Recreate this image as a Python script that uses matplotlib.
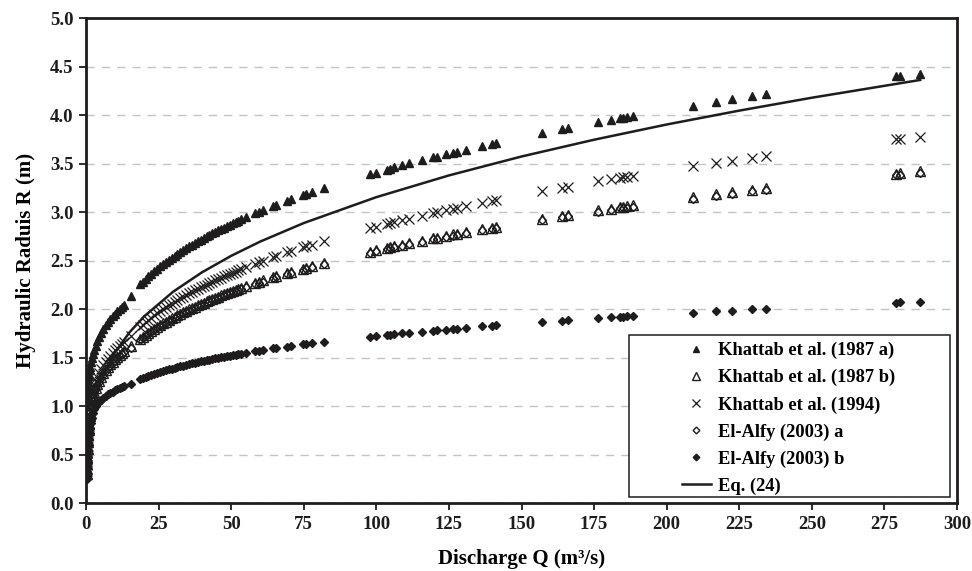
import matplotlib
matplotlib.use("Agg")
import matplotlib.pyplot as plt
from matplotlib.patches import Rectangle
from matplotlib.ticker import MultipleLocator, FormatStrFormatter

plt.rcParams['font.family'] = ['Liberation Serif', 'DejaVu Serif']
plt.rcParams['font.weight'] = 'bold'

INK = '#1e1c1d'

# discharge values shared by all data sets (m3/s)
discharge = [
    0.3, 0.35, 0.4, 0.5, 0.6, 0.7, 0.8, 0.9, 1.0, 1.2, 1.4, 1.7, 2.0, 2.4, 2.8,
    3.3, 3.9, 4.5, 5.2, 6.0, 6.8, 7.6, 8.4, 9.2, 10.0, 10.8, 11.6, 12.4, 13.2, 15.5,
    18.6, 19.5, 20.5, 21.5, 22.5, 23.5, 24.5, 25.5, 26.5, 27.5, 28.5, 29.5, 30.5,
    31.5, 32.5, 33.5, 34.5, 35.5, 36.5, 37.5, 38.5, 39.5, 40.5, 41.5, 42.5, 43.5,
    44.5, 45.5, 46.5, 47.5, 48.5, 49.5, 50.5, 51.5, 52.5, 53.5, 55.0, 58.2, 59.5,
    61.0, 64.5, 65.5, 69.3, 70.5, 74.7, 75.7, 77.7, 82.0,
    97.8, 99.9, 103.6, 104.7, 106.2, 108.7, 111.4, 115.6, 119.6, 120.8, 123.9,
    126.5, 127.7, 130.9, 136.5, 139.7, 141.2, 157.0, 164.0, 166.0, 176.5, 180.8,
    184.0, 185.0, 186.3, 188.3, 209.0, 217.0, 222.4, 229.3, 234.1, 279.0, 280.5, 287.3,
]

khattab_1987a = [
    1.00, 1.05, 1.10, 1.16, 1.21, 1.25, 1.28, 1.31, 1.33, 1.37, 1.41, 1.456, 1.496, 1.542, 1.582,
    1.626, 1.671, 1.712, 1.753, 1.795, 1.833, 1.867, 1.898, 1.927, 1.954, 1.979, 2.003, 2.025, 2.046, 2.14,
    2.26, 2.286, 2.314, 2.342, 2.368, 2.393, 2.418, 2.442, 2.465, 2.487, 2.509, 2.53, 2.551,
    2.571, 2.591, 2.61, 2.629, 2.648, 2.666, 2.684, 2.701, 2.718, 2.734, 2.751, 2.767, 2.783,
    2.798, 2.813, 2.829, 2.843, 2.858, 2.872, 2.886, 2.9, 2.914, 2.928, 2.947, 2.989, 3.005,
    3.023, 3.065, 3.076, 3.119, 3.132, 3.177, 3.188, 3.208, 3.251,
    3.39, 3.40, 3.44, 3.451, 3.463, 3.483, 3.504, 3.536, 3.565, 3.574, 3.596,
    3.615, 3.623, 3.645, 3.683, 3.704, 3.713, 3.82, 3.86, 3.87, 3.934, 3.952,
    3.97, 3.975, 3.979, 3.99, 4.10, 4.14, 4.165, 4.199, 4.216, 4.40, 4.41, 4.43,
]

khattab_1987b = [
    0.30, 0.35, 0.41, 0.48, 0.56, 0.63, 0.70, 0.76, 0.82, 0.90, 0.96, 1.02, 1.075, 1.115, 1.15,
    1.19, 1.23, 1.265, 1.302, 1.34, 1.374, 1.405, 1.433, 1.46, 1.484, 1.507, 1.529, 1.549, 1.569, 1.62,
    1.693, 1.714, 1.736, 1.758, 1.778, 1.798, 1.818, 1.836, 1.854, 1.872, 1.889, 1.906, 1.923,
    1.939, 1.954, 1.97, 1.985, 1.999, 2.014, 2.027, 2.041, 2.055, 2.068, 2.081, 2.094, 2.106,
    2.119, 2.131, 2.143, 2.155, 2.166, 2.178, 2.189, 2.2, 2.211, 2.222, 2.237, 2.27, 2.283,
    2.298, 2.331, 2.34, 2.374, 2.385, 2.42, 2.429, 2.445, 2.479,
    2.594, 2.608, 2.633, 2.64, 2.65, 2.666, 2.682, 2.708, 2.732, 2.739, 2.757,
    2.771, 2.778, 2.796, 2.826, 2.843, 2.851, 2.929, 2.963, 2.972, 3.019, 3.038,
    3.051, 3.056, 3.061, 3.07, 3.153, 3.184, 3.204, 3.229, 3.246, 3.396, 3.401, 3.422,
]

khattab_1994 = [
    0.33, 0.39, 0.45, 0.52, 0.59, 0.66, 0.73, 0.80, 0.87, 0.95, 1.02, 1.08, 1.141, 1.184, 1.221,
    1.263, 1.306, 1.343, 1.382, 1.423, 1.459, 1.492, 1.521, 1.55, 1.576, 1.60, 1.623, 1.645, 1.666, 1.72,
    1.82, 1.843, 1.868, 1.892, 1.915, 1.937, 1.959, 1.98, 2.001, 2.02, 2.04, 2.059, 2.077,
    2.095, 2.112, 2.13, 2.147, 2.163, 2.179, 2.195, 2.21, 2.225, 2.24, 2.255, 2.269, 2.284,
    2.297, 2.311, 2.325, 2.338, 2.351, 2.364, 2.376, 2.389, 2.401, 2.413, 2.431, 2.468, 2.483,
    2.499, 2.537, 2.547, 2.586, 2.598, 2.638, 2.648, 2.666, 2.705,
    2.835, 2.851, 2.879, 2.887, 2.898, 2.916, 2.935, 2.964, 2.991, 2.999, 3.02,
    3.037, 3.044, 3.064, 3.099, 3.118, 3.127, 3.217, 3.254, 3.265, 3.319, 3.341,
    3.357, 3.361, 3.368, 3.377, 3.472, 3.507, 3.53, 3.559, 3.578, 3.751, 3.756, 3.78,
]

elalfy_a = [
    0.27, 0.32, 0.38, 0.45, 0.52, 0.60, 0.67, 0.73, 0.79, 0.87, 0.94, 1.00, 1.05, 1.10, 1.135,
    1.175, 1.215, 1.25, 1.287, 1.325, 1.36, 1.39, 1.418, 1.445, 1.47, 1.493, 1.515, 1.535, 1.555, 1.605,
    1.68, 1.70, 1.722, 1.745, 1.765, 1.786, 1.805, 1.824, 1.842, 1.86, 1.877, 1.894, 1.911,
    1.927, 1.942, 1.958, 1.973, 1.987, 2.002, 2.015, 2.029, 2.043, 2.056, 2.069, 2.082, 2.094,
    2.107, 2.119, 2.131, 2.143, 2.154, 2.166, 2.177, 2.188, 2.199, 2.21, 2.225, 2.258, 2.271,
    2.286, 2.319, 2.328, 2.362, 2.373, 2.408, 2.417, 2.433, 2.467,
    2.582, 2.596, 2.621, 2.628, 2.638, 2.654, 2.67, 2.696, 2.72, 2.727, 2.745,
    2.759, 2.766, 2.784, 2.814, 2.831, 2.839, 2.917, 2.951, 2.96, 3.007, 3.026,
    3.039, 3.044, 3.049, 3.058, 3.141, 3.172, 3.192, 3.217, 3.234, 3.384, 3.389, 3.41,
]

elalfy_b = [
    0.25, 0.28, 0.31, 0.36, 0.42, 0.48, 0.54, 0.60, 0.66, 0.72, 0.78, 0.83, 0.88, 0.93, 0.97,
    1.008, 1.03, 1.049, 1.069, 1.089, 1.106, 1.122, 1.137, 1.15, 1.163, 1.174, 1.185, 1.195, 1.205, 1.23,
    1.279, 1.29, 1.302, 1.313, 1.324, 1.334, 1.344, 1.353, 1.362, 1.372, 1.38, 1.389, 1.397,
    1.405, 1.413, 1.42, 1.428, 1.435, 1.442, 1.449, 1.456, 1.463, 1.469, 1.476, 1.482, 1.488,
    1.494, 1.5, 1.506, 1.511, 1.517, 1.522, 1.528, 1.533, 1.538, 1.544, 1.551, 1.567, 1.573,
    1.58, 1.596, 1.6, 1.616, 1.621, 1.638, 1.642, 1.649, 1.665,
    1.718, 1.724, 1.736, 1.739, 1.743, 1.751, 1.758, 1.77, 1.781, 1.783, 1.791,
    1.798, 1.801, 1.809, 1.823, 1.83, 1.834, 1.868, 1.883, 1.887, 1.908, 1.916,
    1.922, 1.924, 1.926, 1.93, 1.966, 1.979, 1.987, 1.998, 2.006, 2.069, 2.071, 2.08,
]

# Eq. (24) curve
eq24_q = [0.5, 1, 2, 5, 10, 15, 20, 30, 40, 50, 60, 75, 100, 125, 150, 175, 200, 225, 250, 287.3]
eq24_r = [0.62, 0.768, 0.95, 1.258, 1.556, 1.763, 1.926, 2.181, 2.382, 2.551, 2.698, 2.889,
          3.156, 3.38, 3.575, 3.748, 3.905, 4.048, 4.181, 4.364]

fig = plt.figure(figsize=(9.72, 5.71), dpi=100)
ax = fig.add_axes([0.0885, 0.1186, 0.8961, 0.8494])

ax.plot(discharge, khattab_1987a, ls='none', marker='^', ms=6, color=INK,
        label='Khattab et al. (1987 a)')
ax.plot(discharge, khattab_1987b, ls='none', marker='^', ms=6.5, mfc='none', mec=INK, mew=1.0,
        label='Khattab et al. (1987 b)')
ax.plot(discharge, khattab_1994, ls='none', marker='x', ms=7.5, mec=INK, mew=0.9,
        label='Khattab et al. (1994)')
ax.plot(discharge, elalfy_a, ls='none', marker='D', ms=4.3, mfc='none', mec=INK, mew=1.0,
        label='El-Alfy (2003) a')
ax.plot(discharge, elalfy_b, ls='none', marker='D', ms=4.2, color=INK,
        label='El-Alfy (2003) b')
ax.plot(eq24_q, eq24_r, color=INK, lw=1.8, label='Eq. (24)')

ax.set_xlim(0, 300)
ax.set_ylim(0, 5)
ax.xaxis.set_major_locator(MultipleLocator(25))
ax.yaxis.set_major_locator(MultipleLocator(0.5))
ax.yaxis.set_major_formatter(FormatStrFormatter('%.1f'))
ax.yaxis.grid(True, color='#c4c4c4', linestyle=(0, (6, 5)), lw=1)
ax.set_axisbelow(True)

for s in ax.spines.values():
    s.set_linewidth(2)
    s.set_color(INK)
ax.tick_params(direction='out', length=5, width=1.3, labelsize=13.5, colors=INK, pad=4)

ax.set_xlabel('Discharge Q (m³/s)', fontsize=15, fontweight='bold', labelpad=12)
ax.set_ylabel('Hydraulic Raduis R (m)', fontsize=15, fontweight='bold', labelpad=10)

# legend box drawn separately so it keeps the wide left margin
frame = Rectangle((0.647, 0.1296), 0.3304, 0.2837, transform=fig.transFigure,
                  facecolor='white', edgecolor=INK, lw=1.1, zorder=4)
ax.add_patch(frame)
leg = ax.legend(loc='upper left', bbox_to_anchor=(682 / 972, 1 - 342 / 571),
                bbox_transform=fig.transFigure, frameon=False, fontsize=13.3,
                handlelength=1.55, handletextpad=0.4, labelspacing=0.53,
                markerscale=0.8, borderpad=0, borderaxespad=0)
leg.set_zorder(5)

fig.savefig('out.png', dpi=100)
